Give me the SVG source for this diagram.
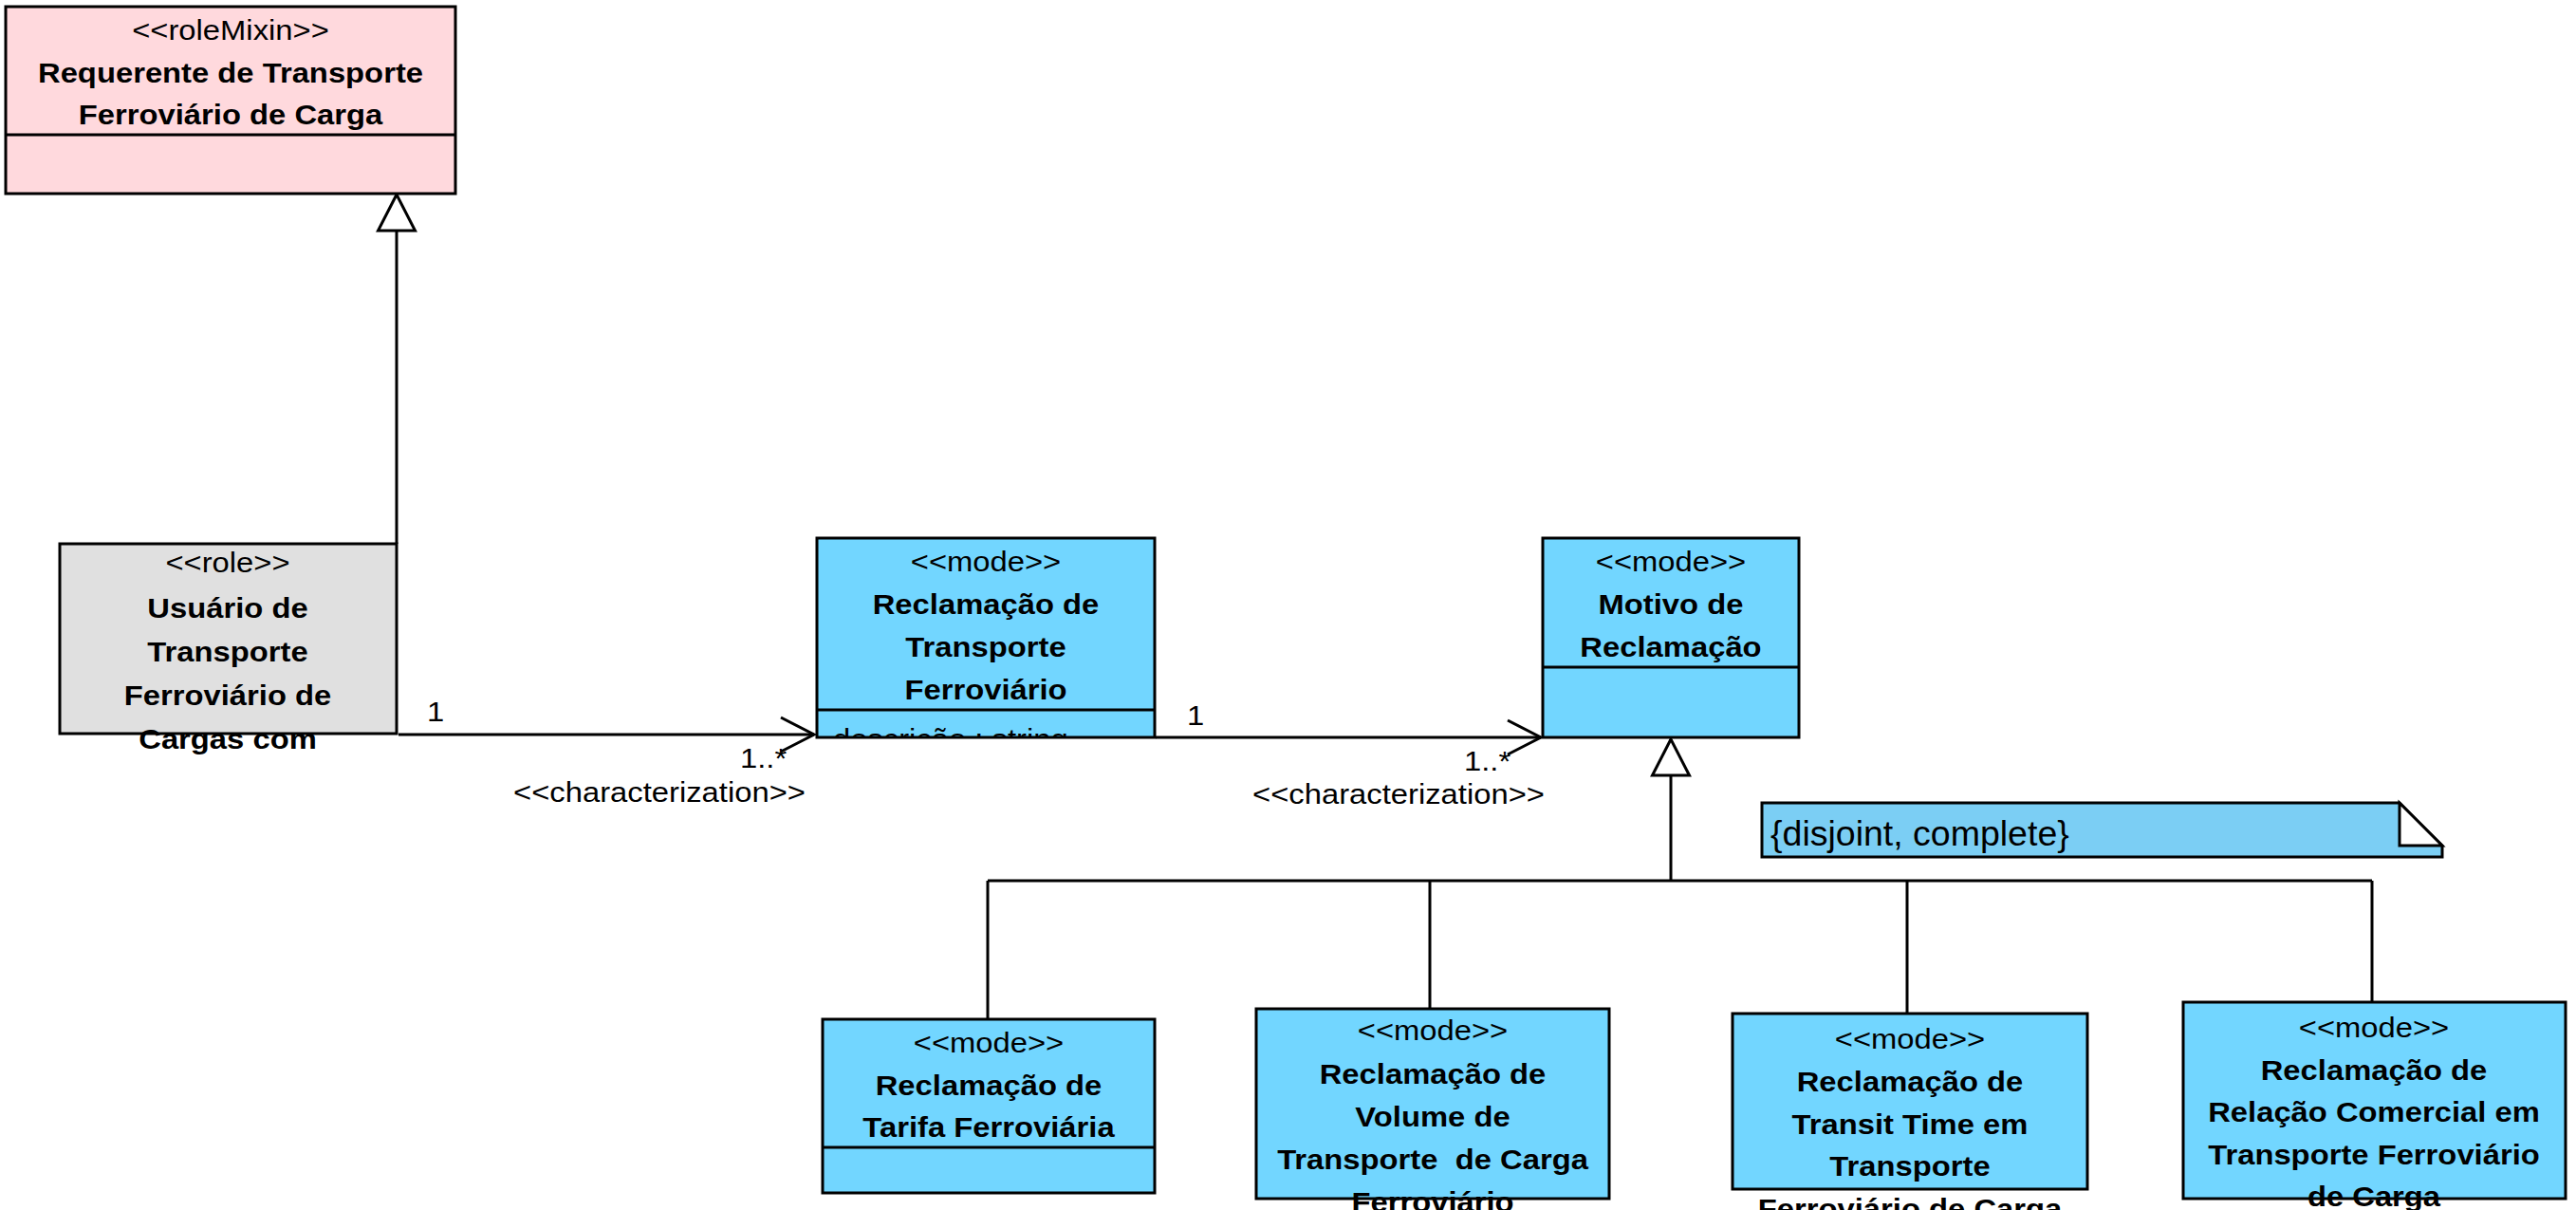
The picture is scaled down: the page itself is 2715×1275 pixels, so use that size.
<svg xmlns="http://www.w3.org/2000/svg" width="2715" height="1275" viewBox="0 0 2715 1275">
<style>
.bx{stroke:#000;stroke-width:3}
.pink{fill:#FFD9DD}
.gray{fill:#E0E0E0}
.blue{fill:#72D6FF}
.ln{stroke:#000;stroke-width:3;fill:none}
text{font-family:"Liberation Sans",Arial,Helvetica,sans-serif;font-size:29px;fill:#000}
.c{text-anchor:middle}
.b{font-weight:bold}
.note{font-size:37.5px}
</style>
<defs>
<marker id="gen" markerUnits="userSpaceOnUse" markerWidth="46" markerHeight="46" viewBox="-42 -23 46 46" refX="0" refY="0" orient="auto">
<path d="M0,0 L-38,-19.5 L-38,19.5 Z" fill="#fff" stroke="#000" stroke-width="3"/>
</marker>
<marker id="open" markerUnits="userSpaceOnUse" markerWidth="44" markerHeight="44" viewBox="-40 -22 44 44" refX="0" refY="0" orient="auto">
<path d="M-35,-18 L0,0 L-35,18" fill="none" stroke="#000" stroke-width="3"/>
</marker>
<clipPath id="attrClip"><rect x="861" y="748" width="356" height="29"/></clipPath>
</defs>

<g id="connectors">
<line class="ln" x1="418" y1="573" x2="418" y2="205" marker-end="url(#gen)"/>
<line class="ln" x1="420" y1="774" x2="858" y2="774" marker-end="url(#open)"/>
<line class="ln" x1="1218" y1="777" x2="1624" y2="777" marker-end="url(#open)"/>
<line class="ln" x1="1761" y1="928" x2="1761" y2="779" marker-end="url(#gen)"/>
<path class="ln" d="M1041,928 H2500 M1041,928 V1073 M1507,928 V1062 M2010,928 V1067 M2500,928 V1055"/>
<text transform="matrix(1.13 0 0 1 450 760)">1</text>
<text transform="matrix(1.13 0 0 1 780 809)">1..*</text>
<text class="c" transform="matrix(1.13 0 0 1 695 845)">&lt;&lt;characterization&gt;&gt;</text>
<text transform="matrix(1.13 0 0 1 1251 764)">1</text>
<text transform="matrix(1.13 0 0 1 1543 812)">1..*</text>
<text class="c" transform="matrix(1.13 0 0 1 1474 847)">&lt;&lt;characterization&gt;&gt;</text>
</g>

<g id="requerente">
<rect class="bx pink" x="6" y="7" width="474" height="197"/>
<line class="ln" x1="6" y1="142" x2="480" y2="142"/>
<text class="c" transform="matrix(1.13 0 0 1 243 42)">&lt;&lt;roleMixin&gt;&gt;</text>
<text class="c b" transform="matrix(1.13 0 0 1 243 87)">Requerente de Transporte</text>
<text class="c b" transform="matrix(1.13 0 0 1 243 131)">Ferroviário de Carga</text>
</g>

<g id="usuario">
<rect class="bx gray" x="63" y="573" width="355" height="200"/>
<text class="c" transform="matrix(1.13 0 0 1 240 603)">&lt;&lt;role&gt;&gt;</text>
<text class="c b" transform="matrix(1.13 0 0 1 240 651)">Usuário de</text>
<text class="c b" transform="matrix(1.13 0 0 1 240 697)">Transporte</text>
<text class="c b" transform="matrix(1.13 0 0 1 240 743)">Ferroviário de</text>
<text class="c b" transform="matrix(1.13 0 0 1 240 789)">Cargas com</text>
</g>

<g id="reclamacao-transporte">
<rect class="bx blue" x="861" y="567" width="356" height="210"/>
<line class="ln" x1="861" y1="748" x2="1217" y2="748"/>
<text class="c" transform="matrix(1.13 0 0 1 1039 602)">&lt;&lt;mode&gt;&gt;</text>
<text class="c b" transform="matrix(1.13 0 0 1 1039 647)">Reclamação de</text>
<text class="c b" transform="matrix(1.13 0 0 1 1039 692)">Transporte</text>
<text class="c b" transform="matrix(1.13 0 0 1 1039 737)">Ferroviário</text>
<g clip-path="url(#attrClip)">
<text transform="matrix(1.13 0 0 1 878 789)">descrição : string</text>
</g>
</g>

<g id="motivo">
<rect class="bx blue" x="1626" y="567" width="270" height="210"/>
<line class="ln" x1="1626" y1="703" x2="1896" y2="703"/>
<text class="c" transform="matrix(1.13 0 0 1 1761 602)">&lt;&lt;mode&gt;&gt;</text>
<text class="c b" transform="matrix(1.13 0 0 1 1761 647)">Motivo de</text>
<text class="c b" transform="matrix(1.13 0 0 1 1761 692)">Reclamação</text>
</g>

<g id="note">
<polygon class="bx" fill="#7BCEF4" points="1857,846 2529,846 2574,891 2574,903 1857,903"/>
<polygon class="bx" fill="#fff" points="2529,846 2574,891 2529,891"/>
<text class="note" x="1866" y="891">{disjoint, complete}</text>
</g>

<g id="tarifa">
<rect class="bx blue" x="867" y="1074" width="350" height="183"/>
<line class="ln" x1="867" y1="1209" x2="1217" y2="1209"/>
<text class="c" transform="matrix(1.13 0 0 1 1042 1109)">&lt;&lt;mode&gt;&gt;</text>
<text class="c b" transform="matrix(1.13 0 0 1 1042 1154)">Reclamação de</text>
<text class="c b" transform="matrix(1.13 0 0 1 1042 1198)">Tarifa Ferroviária</text>
</g>

<g id="volume">
<rect class="bx blue" x="1324" y="1063" width="372" height="200"/>
<text class="c" transform="matrix(1.13 0 0 1 1510 1096)">&lt;&lt;mode&gt;&gt;</text>
<text class="c b" transform="matrix(1.13 0 0 1 1510 1142)">Reclamação de</text>
<text class="c b" transform="matrix(1.13 0 0 1 1510 1187)">Volume de</text>
<text class="c b" xml:space="preserve" transform="matrix(1.13 0 0 1 1510 1232)">Transporte  de Carga</text>
<text class="c b" transform="matrix(1.13 0 0 1 1510 1277)">Ferroviário</text>
</g>

<g id="transit">
<rect class="bx blue" x="1826" y="1068" width="374" height="185"/>
<text class="c" transform="matrix(1.13 0 0 1 2013 1105)">&lt;&lt;mode&gt;&gt;</text>
<text class="c b" transform="matrix(1.13 0 0 1 2013 1150)">Reclamação de</text>
<text class="c b" transform="matrix(1.13 0 0 1 2013 1195)">Transit Time em</text>
<text class="c b" transform="matrix(1.13 0 0 1 2013 1239)">Transporte</text>
<text class="c b" transform="matrix(1.13 0 0 1 2013 1284)">Ferroviário de Carga</text>
</g>

<g id="relacao">
<rect class="bx blue" x="2301" y="1056" width="403" height="207"/>
<text class="c" transform="matrix(1.13 0 0 1 2502 1093)">&lt;&lt;mode&gt;&gt;</text>
<text class="c b" transform="matrix(1.13 0 0 1 2502 1138)">Reclamação de</text>
<text class="c b" transform="matrix(1.13 0 0 1 2502 1182)">Relação Comercial em</text>
<text class="c b" transform="matrix(1.13 0 0 1 2502 1227)">Transporte Ferroviário</text>
<text class="c b" transform="matrix(1.13 0 0 1 2502 1271)">de Carga</text>
</g>
</svg>
